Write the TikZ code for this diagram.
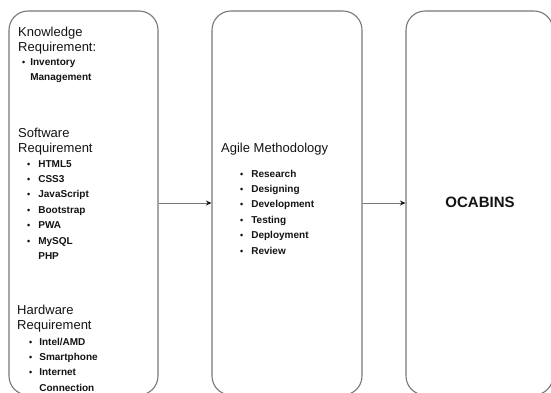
\documentclass[tikz,border=0pt]{standalone}
\usepackage{fontspec}
\setmainfont{Liberation Sans}
\usetikzlibrary{arrows.meta,positioning}
\definecolor{flink}{HTML}{141414}
\definecolor{flline}{HTML}{777777}
\newcommand{\flbul}{{\fontsize{9}{9}\selectfont\textbullet}}
\tikzset{
  flstage/.style={
    draw=flline,
    rounded corners=19pt,
    line width=1.1pt,
    fill=white,
    inner sep=0pt,
    minimum height=384pt
  },
  flhead/.style={
    anchor=base west,
    inner sep=0pt,
    text=flink,
    font=\fontsize{13}{15.5}\selectfont
  },
  flitems/.style={
    anchor=base west,
    inner sep=0pt,
    text=flink,
    font=\bfseries\fontsize{10}{15.4}\selectfont
  },
  fledge/.style={
    -{Stealth[length=5.5pt,width=5pt,color=flink]},
    line width=0.9pt,
    color=flline
  }
}

\begin{document}
\begin{tikzpicture}[x=1pt,y=-1pt]
  \useasboundingbox (0,0) rectangle (551,392);
  \clip (0,0) rectangle (551,392);

  \node[flstage, minimum width=149pt] (reqbox) at (83.5,203) {};
  \node[flstage, minimum width=150pt] (agilebox) at (287,203) {};
  \node[flstage, minimum width=147pt] (appbox) at (479.5,203) {};

  % knowledge
  \node[flhead] (knowhead) at (18,36) {\begin{tabular}[t]{@{}l@{}}Knowledge\\ Requirement:\end{tabular}};
  \node[flitems] (knowlist) at (22,65) {\begin{tabular}[t]{@{}l@{\hspace{5pt}}l@{}}
    \flbul & Inventory\\
           & Management
  \end{tabular}};

  % software
  \node[flhead] (softhead) at (18,137) {\begin{tabular}[t]{@{}l@{}}Software\\ Requirement\end{tabular}};
  \node[flitems] (softlist) at (27,167) {\begin{tabular}[t]{@{}l@{\hspace{8pt}}l@{}}
    \flbul & HTML5\\
    \flbul & CSS3\\
    \flbul & JavaScript\\
    \flbul & Bootstrap\\
    \flbul & PWA\\
    \flbul & MySQL\\
           & PHP
  \end{tabular}};

  % hardware
  \node[flhead] (hardhead) at (17,314) {\begin{tabular}[t]{@{}l@{}}Hardware\\ Requirement\end{tabular}};
  \node[flitems] (hardlist) at (29,345) {\begin{tabular}[t]{@{}l@{\hspace{7pt}}l@{}}
    \flbul & Intel/AMD\\
    \flbul & Smartphone\\
    \flbul & Internet\\
           & Connection
  \end{tabular}};

  % agile
  \node[flhead] (agilehead) at (221,152) {Agile Methodology};
  \node[flitems] (agilelist) at (240,177) {\begin{tabular}[t]{@{}l@{\hspace{8pt}}l@{}}
    \flbul & Research\\
    \flbul & Designing\\
    \flbul & Development\\
    \flbul & Testing\\
    \flbul & Deployment\\
    \flbul & Review
  \end{tabular}};

  \node[text=flink, font=\bfseries\fontsize{15}{15}\selectfont] (appname) at (480,202) {OCABINS};

  \draw[fledge] (reqbox.east) -- (agilebox.west);
  \draw[fledge] (agilebox.east) -- (appbox.west);
\end{tikzpicture}
\end{document}
